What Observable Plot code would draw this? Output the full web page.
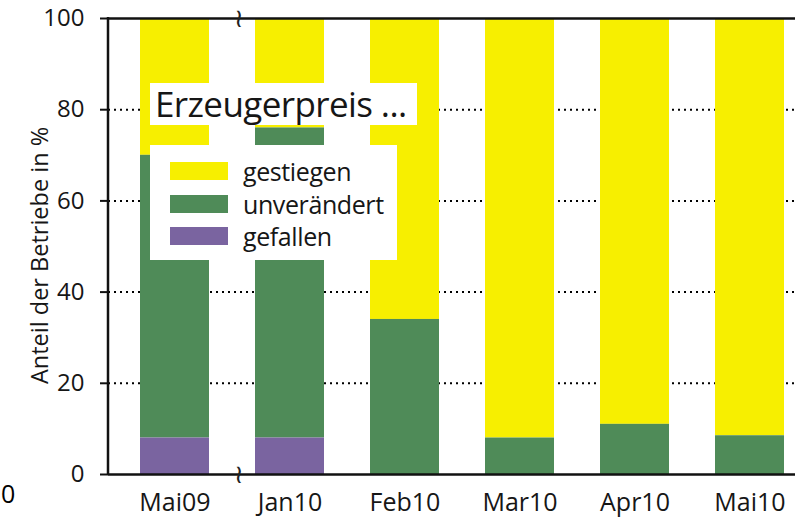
<!DOCTYPE html>
<html>
<head>
<meta charset="utf-8">
<script src="https://cdn.jsdelivr.net/npm/d3@7"></script>
<script src="https://cdn.jsdelivr.net/npm/@observablehq/plot@0.6"></script>
<style>
  html, body { margin: 0; padding: 0; background: #fff; }
  #wrap { position: relative; width: 795px; height: 519px; font-family: "Open Sans", sans-serif; color: #161616; }
  .box { position: absolute; background: #fff; }
  #title { left: 150px; top: 83px; width: 267px; height: 42px; font-size: 35px; line-height: 42px; padding-left: 5px; box-sizing: border-box; letter-spacing: -0.6px; white-space: nowrap; }
  #items { left: 150px; top: 145px; width: 247px; height: 115px; }
  .item { position: absolute; left: 20px; height: 18px; display: flex; align-items: center; }
  .sw { width: 58px; height: 18px; }
  .lab { margin-left: 15px; font-size: 25px; letter-spacing: -0.4px; white-space: nowrap; }
  #stray { position: absolute; left: 1px; top: 476px; font-size: 25px; color: #000; font-family: "Open Sans", sans-serif; }
</style>
</head>
<body>
<div id="wrap"></div>
<script>
const months = ["Mai09", "Jan10", "Feb10", "Mar10", "Apr10", "Mai10"];
const seriesNames = ["gestiegen", "unverändert", "gefallen"];
const seriesColors = ["#f7ef00", "#4f8b58", "#7a64a0"];
const gestiegen   = [30, 24, 66, 92, 89, 91.5];
const unveraendert = [62, 68, 34, 8, 11, 8.5];
const gefallen    = [8, 8, 0, 0, 0, 0];
const yTicks = [0, 20, 40, 60, 80, 100];
const gridTicks = [20, 40, 60, 80];
const legendTitle = "Erzeugerpreis ...";
const yLabel = "Anteil der Betriebe in %";

const seriesValues = [gestiegen, unveraendert, gefallen];
const data = [];
months.forEach((m, i) => {
  seriesNames.forEach((s, j) => data.push({month: m, series: s, value: seriesValues[j][i]}));
});

const chart = Plot.plot({
  width: 795,
  height: 519,
  marginLeft: 108,
  marginRight: 0,
  marginTop: 18,
  marginBottom: 45,
  style: {fontFamily: "Open Sans, sans-serif", color: "#161616", background: "#fff"},
  x: {type: "band", domain: months, paddingInner: 0.4, paddingOuter: 0.17, align: 0.74, label: null},
  y: {domain: [0, 100], label: null},
  color: {domain: seriesNames, range: seriesColors},
  marks: [
    Plot.gridY(gridTicks, {stroke: "#000", strokeOpacity: 1, strokeWidth: 2, strokeDasharray: "2,4"}),
    Plot.barY(data, {x: "month", y: "value", fill: "series", order: ["gefallen", "unverändert", "gestiegen"]}),
    Plot.ruleY([0, 100], {stroke: "#111", strokeWidth: 2.5}),
    Plot.axisY(yTicks, {tickSize: 8, tickPadding: 16, fontSize: 24, stroke: "#111", strokeWidth: 2, label: null}),
    Plot.axisX({tickSize: 0, tickPadding: 19, fontSize: 25, label: null}),
    Plot.text([yLabel], {frameAnchor: "left", dx: -68, dy: 9, rotate: -90, textAnchor: "middle", fontSize: 23.5, text: d => d, fill: "#161616"}),
    Plot.text([0, 100], {x: () => months[0], y: d => d, text: () => "≀", dx: 64, fontSize: 26, fill: "#222"})
  ]
});

const wrap = document.getElementById("wrap");
wrap.appendChild(chart);

// left axis line
const svg = d3.select(chart);
svg.append("line").attr("x1", 108).attr("x2", 108).attr("y1", 17).attr("y2", 475)
  .attr("stroke", "#111").attr("stroke-width", 2.5);

const t = document.createElement("div");
t.className = "box"; t.id = "title"; t.textContent = legendTitle;
wrap.appendChild(t);

const items = document.createElement("div");
items.className = "box"; items.id = "items";
seriesNames.forEach((s, i) => {
  const it = document.createElement("div");
  it.className = "item";
  it.style.top = (17 + i * 32.5) + "px";
  const sw = document.createElement("div");
  sw.className = "sw"; sw.style.background = seriesColors[i];
  const lab = document.createElement("div");
  lab.className = "lab"; lab.textContent = s;
  it.appendChild(sw); it.appendChild(lab);
  items.appendChild(it);
});
wrap.appendChild(items);

const stray = document.createElement("div");
stray.id = "stray"; stray.textContent = "0";
wrap.appendChild(stray);
</script>
</body>
</html>
